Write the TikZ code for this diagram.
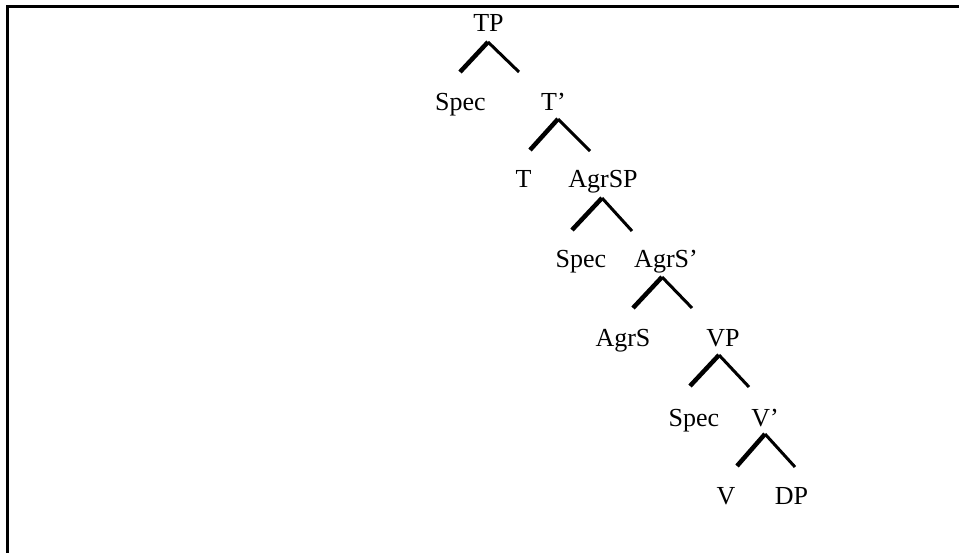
\documentclass[tikz,border=0pt]{standalone}
\usepackage{fontspec}
\setmainfont{Liberation Serif}
\begin{document}
\begin{tikzpicture}[x=1pt,y=-1pt,
    lab/.style={anchor=base,inner sep=0pt,font=\fontsize{26}{31}\selectfont},
    lbr/.style={line width=4.5pt}, rbr/.style={line width=3pt}]
    \useasboundingbox (0,0) rectangle (959,553);
    \draw[line width=3pt] (959,7) -- (7,7) -- (7,553);
    % labels
    \node[lab] (tp) at (488.5,32) {TP};
    \node[lab] (spec1) at (460.5,111) {Spec}; \node[lab] (tbar) at (553.5,111) {T’};
    \node[lab] (t) at (523.5,188) {T}; \node[lab] (agrsp) at (603,188) {AgrSP};
    \node[lab] (spec2) at (581,268) {Spec}; \node[lab] (agrsbar) at (666,268) {AgrS’};
    \node[lab] (agrs) at (623,347) {AgrS}; \node[lab] (vp) at (723,347) {VP};
    \node[lab] (spec3) at (694,426) {Spec}; \node[lab] (vbar) at (765,426) {V’};
    \node[lab] (v) at (726,504) {V}; \node[lab] (dp) at (791.5,504) {DP};
    % branches
    \coordinate (tpA) at (488,42); \coordinate (tpL) at (460,72); \coordinate (tpR) at (519,72);
    \coordinate (tbA) at (558,119); \coordinate (tbL) at (530,150); \coordinate (tbR) at (590,151);
    \coordinate (asA) at (602,198); \coordinate (asL) at (572,230); \coordinate (asR) at (632,231);
    \coordinate (abA) at (662,277); \coordinate (abL) at (633,308); \coordinate (abR) at (692,308);
    \coordinate (vpA) at (719,355); \coordinate (vpL) at (690,386); \coordinate (vpR) at (749,387);
    \coordinate (vbA) at (765,434); \coordinate (vbL) at (737,466); \coordinate (vbR) at (795,467);
    \draw[lbr] (tpL) -- (tpA); \draw[rbr] (tpA) -- (tpR);
    \draw[lbr] (tbL) -- (tbA); \draw[rbr] (tbA) -- (tbR);
    \draw[lbr] (asL) -- (asA); \draw[rbr] (asA) -- (asR);
    \draw[lbr] (abL) -- (abA); \draw[rbr] (abA) -- (abR);
    \draw[lbr] (vpL) -- (vpA); \draw[rbr] (vpA) -- (vpR);
    \draw[lbr] (vbL) -- (vbA); \draw[rbr] (vbA) -- (vbR);
\end{tikzpicture}
\end{document}
